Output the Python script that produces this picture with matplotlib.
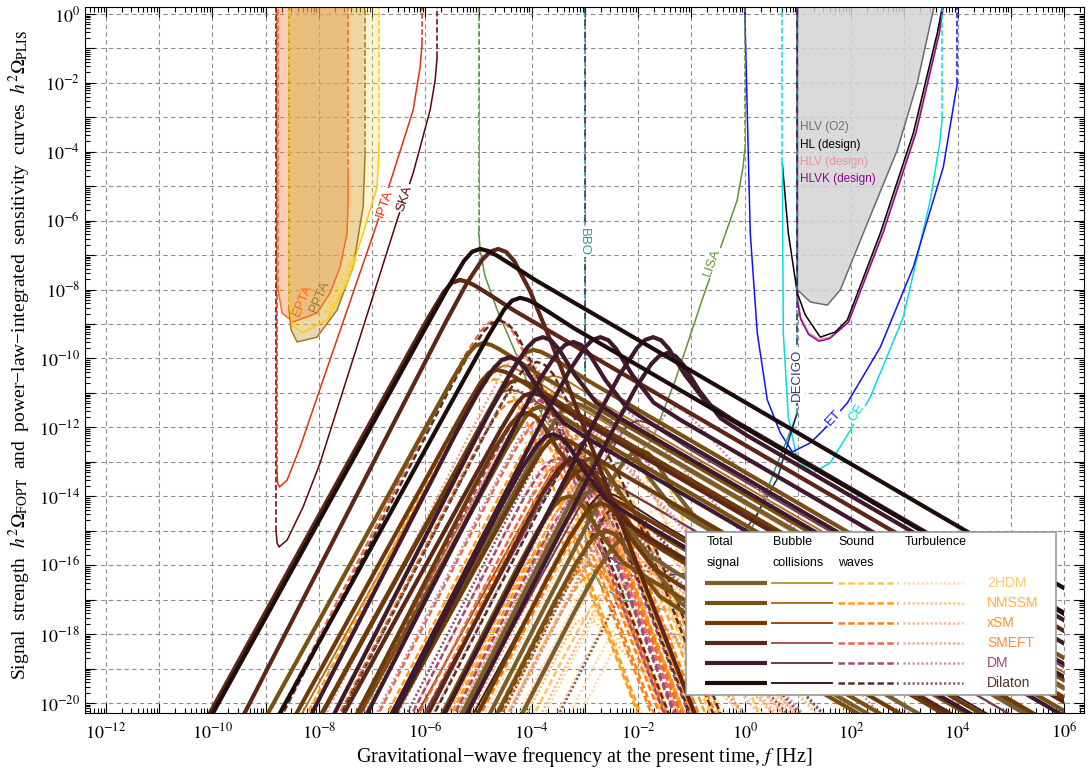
import numpy as np
import matplotlib
matplotlib.use("Agg")
import matplotlib.pyplot as plt
from matplotlib.patches import Rectangle
from matplotlib.ticker import FixedLocator, FuncFormatter, NullFormatter

plt.rcParams['font.family'] = ['Liberation Sans', 'DejaVu Sans']
plt.rcParams['mathtext.fontset'] = 'stix'

# ---------------------------------------------------------------------------
# sensitivity curves (PLIS): log10 f [Hz], log10 h^2 Omega
EPTA_F = [-8.767, -8.692, -8.485, -8.034, -7.789, -7.602, -7.470, -7.451, -7.451]
EPTA_O = [-8.01, -8.68, -8.94, -8.68, -8.10, -7.34, -6.36, -5.40, -4.62]
PPTA_F = [-8.560, -8.523, -8.410, -8.034, -7.658, -7.357, -7.169, -7.132]
PPTA_O = [-8.59, -9.17, -9.52, -9.38, -8.59, -7.34, -5.60, -4.03]
NANO_F = [-8.560, -8.504, -8.316, -7.846, -7.470, -7.169, -6.906, -6.868]
NANO_O = [-8.30, -9.03, -9.26, -8.88, -7.81, -6.36, -5.02, -3.86]
IPTA_F = [-8.786, -8.776, -8.74, -8.598, -8.353, -7.921, -6.906, -6.605, -6.229, -6.098, -6.06]
IPTA_O = [-13.25, -13.62, -13.73, -13.53, -12.57, -10.62, -6.07, -4.62, -2.79, -1.54, -0.84]
SKA_F = [-8.804, -8.786, -8.75, -8.598, -8.297, -7.977, -6.53, -6.229, -5.91, -5.816, -5.778]
SKA_O = [-15.0, -15.35, -15.47, -15.27, -14.31, -13.03, -5.98, -4.62, -2.79, -1.92, -1.25]
LISA_F = [-5.0, -4.97, -4.88, -4.65, -4.27, -4.03, -3.79, -3.4, -2.9, -2.5, -2.1, -1.74,
          -1.30, -0.8, -0.27, -0.14, -0.03, 0.0]
LISA_O = [-6.3, -6.85, -7.6, -8.59, -9.96, -10.91, -11.70, -12.5, -13.0, -13.1, -12.9, -12.37,
          -10.62, -8.3, -5.98, -5.40, -4.44, -3.95]
BBO_F = [-3.0, -2.95, -2.7, -2.3, -1.5, -0.8, -0.3, 0.2, 0.6, 0.99]
BBO_O = [-15.0, -15.9, -16.6, -17.0, -17.3, -17.2, -16.4, -14.7, -13.1, -11.6]
DEC_F = [-3.0, -2.95, -2.7, -2.3, -1.5, -0.8, -0.3, 0.2, 0.61, 0.99]
DEC_O = [-14.0, -14.9, -15.6, -16.0, -16.3, -16.2, -15.5, -14.6, -13.5, -11.55]
ET_F = [0.0, 0.105, 0.237, 0.425, 0.67, 0.895, 1.233, 1.477, 1.929, 2.549, 3.17, 3.733, 3.996]
ET_O = [0.2, -6.36, -9.26, -11.2, -12.16, -12.71, -12.45, -12.08, -11.29, -9.67, -7.34, -4.44, -2.0]
CE_F = [0.707, 0.726, 0.82, 0.989, 1.289, 1.609, 1.985, 2.361, 2.98, 3.489, 3.66, 3.714]
CE_O = [-4.33, -9.26, -11.7, -12.95, -13.32, -13.03, -12.08, -11.12, -8.8, -5.4, -3.8, -3.0]
HL_F = [0.707, 0.82, 0.989, 1.14, 1.421, 1.703, 1.929, 2.549, 3.17, 3.62, 3.714]
HL_O = [-4.33, -6.36, -8.1, -8.74, -9.38, -9.23, -8.88, -6.36, -3.45, -0.55, 0.2]
HLVD_F = [0.989, 0.989, 1.05, 1.2, 1.40, 1.6, 1.95, 2.58, 3.2, 3.64, 3.72]
HLVD_O = [0.2, -8.2, -8.8, -9.25, -9.45, -9.38, -8.92, -6.36, -3.45, -0.55, 0.2]
HLVK_F = [0.989, 0.989, 1.05, 1.2, 1.40, 1.6, 1.95, 2.6, 3.22, 3.66, 3.73]
HLVK_O = [0.2, -8.3, -8.85, -9.3, -9.5, -9.42, -8.95, -6.36, -3.45, -0.55, 0.2]
O2_F = [0.989, 0.989, 1.233, 1.553, 1.797, 2.23, 2.868, 3.244, 3.545, 3.57]
O2_O = [0.2, -8.0, -8.36, -8.45, -8.01, -6.36, -3.95, -2.0, 0.12, 0.2]

# ---------------------------------------------------------------------------
# FOPT signals: peak positions (log10 f, log10 h^2 Omega)
MODELS = ["2HDM", "NMSSM", "xSM", "SMEFT", "DM", "Dilaton"]

TOTAL = {
    "2HDM": [(-2.39, -12.37, "m"), (-1.96, -12.66, "m"), (-3.2, -11.3, "b"),
             (-2.8, -13.8, "m"), (-2.2, -15.2, "m")],
    "NMSSM": [(-4.91, -9.55, "b"), (-3.97, -9.75, "b"), (-3.84, -11.4, "b"),
              (-2.9, -12.9, "m"), (-3.3, -14.0, "m"), (-2.6, -15.0, "m")],
    "xSM": [(-4.65, -10.33, "b"), (-4.27, -10.62, "b"), (-4.09, -11.58, "m"),
            (-3.5, -12.3, "b"), (-3.0, -13.2, "m"), (-2.7, -14.2, "m")],
    "SMEFT": [(-5.35, -7.72, "b"), (-4.63, -6.82, "s"), (-4.0, -11.0, "b"),
              (-3.2, -12.9, "m")],
    "DM": [(-4.41, -9.96, "m"), (-3.79, -9.38, "m"), (-3.22, -9.52, "m"),
           (-2.71, -9.38, "m"), (-1.72, -9.38, "m"), (-1.45, -9.84, "m"),
           (-3.6, -12.2, "m")],
    "Dilaton": [(-4.97, -6.82, "b"), (-4.22, -8.24, "b")],
}
BUBBLE = {
    "2HDM": [(-3.2, -11.35)],
    "NMSSM": [(-4.5, -10.2), (-3.6, -10.5)],
    "xSM": [(-4.4, -10.9), (-3.3, -12.9)],
    "SMEFT": [(-5.35, -7.75)],
    "DM": [(-3.2, -13.0), (-2.0, -11.8)],
    "Dilaton": [(-2.6, -13.9)],
}
SOUND = {
    "2HDM": [(-2.39, -12.4), (-1.96, -12.7), (-3.0, -12.2), (-2.8, -13.85),
             (-2.2, -15.25), (-2.5, -13.5), (-3.3, -14.6), (-2.9, -15.8),
             (-2.4, -16.5), (-3.5, -15.5)],
    "NMSSM": [(-4.7, -10.6), (-3.8, -10.9), (-3.6, -11.8), (-2.9, -12.95),
              (-3.3, -14.05), (-2.6, -15.05), (-3.0, -13.6), (-2.3, -14.3),
              (-3.6, -15.2), (-2.8, -16.2)],
    "xSM": [(-4.3, -11.2), (-4.09, -11.62), (-3.6, -12.0), (-3.0, -13.25),
            (-2.7, -14.25), (-3.3, -13.0), (-2.5, -13.8), (-3.4, -15.0), (-2.9, -16.0)],
    "SMEFT": [(-4.65, -8.88), (-3.4, -13.0), (-3.7, -11.6)],
    "DM": [(-4.41, -10.0), (-3.9, -11.2), (-3.0, -13.8), (-3.5, -12.9)],
    "Dilaton": [(-4.6, -8.9), (-3.9, -10.1), (-2.9, -12.35), (-2.3, -14.2)],
}
TURB = {
    "2HDM": [(-2.0, -14.0), (-1.6, -14.3), (-2.6, -13.9), (-2.4, -15.6),
             (-1.8, -16.9), (-3.0, -16.0), (-2.2, -17.5), (-3.2, -17.0)],
    "NMSSM": [(-4.3, -12.3), (-3.4, -12.6), (-3.2, -13.5), (-2.5, -14.9),
              (-2.9, -15.8), (-2.2, -16.8), (-3.0, -17.5)],
    "xSM": [(-4.0, -12.9), (-3.7, -13.1), (-3.2, -13.6), (-2.6, -15.3), (-2.3, -16.2)],
    "SMEFT": [(-4.25, -9.9), (-4.2, -11.9), (-3.0, -14.3)],
    "DM": [(-3.4, -11.4), (-2.8, -11.6), (-2.3, -11.5), (-1.3, -11.4),
           (-4.0, -12.0), (-3.6, -14.5)],
    "Dilaton": [(-4.3, -10.9), (-3.5, -12.2), (-2.5, -14.6), (-1.9, -16.0)],
}

# spectral shape knots (offset from the peak in decades)
KNOT_DX = [-14, -1.0, -0.6, -0.3, -0.15, 0, 0.15, 0.3, 0.6, 1.0, 1.5, 14]
SHAPE_DY = {
    "b": [-38.6, -2.22, -1.11, -0.34, -0.08, 0, -0.06, -0.18, -0.47, -0.87, -1.32, -12.57],
    "s": [-41.2, -2.16, -1.02, -0.31, -0.08, 0, -0.09, -0.35, -1.23, -2.73, -4.73, -54.7],
    "m": [-41.2, -2.16, -1.02, -0.31, -0.08, 0, -0.09, -0.35, -1.10, -1.90, -2.40, -13.65],
    "t": [-41.6, -2.55, -1.35, -0.48, -0.14, 0, -0.10, -0.32, -0.81, -1.48, -2.31, -23.15],
}

TOT_C = {"2HDM": "#7a5c2e", "NMSSM": "#7a4f12", "xSM": "#6e3a0a",
         "SMEFT": "#5e2616", "DM": "#3e1a2c", "Dilaton": "#1c0c0a"}
BC_C = {"2HDM": "#c0954a", "NMSSM": "#b0701c", "xSM": "#a04a10",
        "SMEFT": "#a85a4a", "DM": "#6e3a58", "Dilaton": "#3c1c14"}
SW_C = {"2HDM": "#ffc45c", "NMSSM": "#ff9c14", "xSM": "#ff7e14",
        "SMEFT": "#e8684a", "DM": "#a44a78", "Dilaton": "#5a2c24"}
TB_C = {"2HDM": "#ffdc9a", "NMSSM": "#ffc27a", "xSM": "#ffb48a",
        "SMEFT": "#f0a898", "DM": "#c894b0", "Dilaton": "#8a5c58"}
LAB_C = {"2HDM": "#ffc870", "NMSSM": "#ffb040", "xSM": "#ff9030",
         "SMEFT": "#ff8a3a", "DM": "#a04a70", "Dilaton": "#5a3028"}

W, H = 1089, 771
fig = plt.figure(figsize=(W / 100, H / 100), dpi=100)
ax = fig.add_axes([85 / W, 1 - 712.7 / H, 999 / W, 706 / H])
ax.set_xscale('log')
ax.set_yscale('log')
X0, X1 = 10 ** -12.395, 10 ** 6.376
Y0, Y1 = 10 ** -20.28, 10 ** 0.21
ax.set_xlim(X0, X1)
ax.set_ylim(Y0, Y1)
TOP = 10 ** 0.3

P = lambda v: 10 ** np.asarray(v, dtype=float)


def sens(fl, ol, color, lw=1.1, left=False, right=False, ls_v='--', z=2):
    ax.plot(P(fl), P(ol), color=color, lw=lw, zorder=z, solid_capstyle='butt')
    if left:
        ax.plot(P([fl[0], fl[0]]), [P(ol[0]), TOP], color=color, lw=lw, ls=ls_v, zorder=z)
    if right:
        ax.plot(P([fl[-1], fl[-1]]), [P(ol[-1]), TOP], color=color, lw=lw, ls=ls_v, zorder=z)


def fill_top(fl, ol, color, alpha):
    xs = np.concatenate([[fl[0]], fl, [fl[-1]]])
    ys = np.concatenate([[0.3], ol, [0.3]])
    ax.fill(P(xs), P(ys), color=color, alpha=alpha, lw=0, zorder=1)


# PTA filled regions
fill_top(EPTA_F, EPTA_O, '#f0884a', 0.40)
fill_top(PPTA_F, PPTA_O, '#b07820', 0.30)
fill_top(NANO_F, NANO_O, '#ffd966', 0.30)
sens(SKA_F, SKA_O, '#5a0808', left=True, right=True)
sens(IPTA_F, IPTA_O, '#e03010', left=True, right=True)
sens(EPTA_F, EPTA_O, '#ff6a1a', left=True, right=True)
sens(PPTA_F, PPTA_O, '#a87818', left=True, right=True)
sens(NANO_F, NANO_O, '#ffcc00', left=True, right=True)

# ground based
fill_top(O2_F, O2_O, '#d4d4d4', 0.85)
sens(O2_F, O2_O, '#6a6a6a')
sens(HLVD_F, HLVD_O, '#e890a8')
sens(HLVK_F, HLVK_O, '#8a0a8a')
sens(HL_F, HL_O, 'black')
sens(CE_F, CE_O, '#00e0e0', left=True, right=True)
sens(ET_F, ET_O, '#1010ff', right=True)

# space based
sens(LISA_F, LISA_O, '#5e9438', left=True, right=True)
ax.plot(P(BBO_F), P(BBO_O), color='#20a08c', lw=1.1, zorder=2)
ax.plot(P(DEC_F), P(DEC_O), color='#1c2c5c', lw=1.1, zorder=2)
for fl, ol, c, off in [(BBO_F, BBO_O, '#20a08c', 0), (DEC_F, DEC_O, '#1c2c5c', 4)]:
    for i in (0, -1):
        ax.plot(P([fl[i], fl[i]]), [P(ol[i]), TOP], color=c, lw=1.1,
                ls=(off, (4, 4)), zorder=2)

# FOPT spectra, computed up to f = 1e6 Hz only
clip = Rectangle((X0, Y0), 1e6 - X0, Y1 - Y0, transform=ax.transData)
dx = np.asarray(KNOT_DX, dtype=float)


def spectrum(fp, op, shape, **kw):
    ln, = ax.plot(10 ** (fp + dx), 10 ** (op + np.asarray(SHAPE_DY[shape])), **kw)
    ln.set_clip_path(clip)


for m in MODELS:
    for fp, op in BUBBLE[m]:
        spectrum(fp, op, "b", color=BC_C[m], lw=1.4, zorder=3)
    for fp, op in SOUND[m]:
        spectrum(fp, op, "s", color=SW_C[m], lw=1.8, dashes=(2.6, 1.3), zorder=3)
    for fp, op in TURB[m]:
        spectrum(fp, op, "t", color=TB_C[m], lw=1.8, dashes=(0.9, 0.9), zorder=3)
    for fp, op, sh in TOTAL[m]:
        spectrum(fp, op, sh, color=TOT_C[m], lw=3.0, zorder=4, solid_capstyle='butt')

# labels on curves
def lab(lf, lo, s, c, rot, box=True, size=9.5):
    kw = dict(bbox=dict(fc='white', ec='none', pad=1.0)) if box else {}
    ax.text(10 ** lf, 10 ** lo, s, color=c, rotation=rot, ha='center', va='center',
            rotation_mode='anchor', fontsize=size, zorder=6, **kw)


lab(-8.30, -8.30, 'EPTA', '#ff6a1a', 67, box=False)
lab(-7.98, -8.21, 'PPTA', '#9e7a2a', 67, box=False)
lab(-7.56, -7.84, 'NANOGrav', '#ffd020', 65, box=False)
lab(-6.77, -5.49, 'IPTA', '#e03010', 71)
lab(-6.38, -5.35, 'SKA', '#5a0808', 72)
lab(-3.03, -6.62, 'BBO', '#2aa08a', -90)
lab(-0.61, -7.2, 'LISA', '#5e9438', 70)
lab(0.99, -10.48, 'DECIGO', '#2a3a6a', 90)
lab(1.665, -11.73, 'ET', '#1010ff', 47)
lab(2.098, -11.58, 'CE', '#00d8d8', 58)
for lo, s, c in [(-3.28, 'HLV (O2)', '#6e6e6e'), (-3.80, 'HL (design)', 'black'),
                 (-4.30, 'HLV (design)', '#e890a8'), (-4.79, 'HLVK (design)', '#8a0a8a')]:
    ax.text(10 ** 1.045, 10 ** lo, s, color=c, fontsize=8.5, ha='left', va='center', zorder=6)

# axes styling: a tick at every decade, labels on the even ones
fmt = FuncFormatter(lambda v, p: f'$10^{{{int(round(np.log10(v)))}}}$'
                    if int(round(np.log10(v))) % 2 == 0 else '')
for axis, lo_e, hi_e, lim in ((ax.xaxis, -12, 6, (X0, X1)), (ax.yaxis, -20, 0, (Y0, Y1))):
    axis.set_major_locator(FixedLocator([10.0 ** e for e in range(lo_e, hi_e + 1)]))
    minors = [k * 10.0 ** e for e in range(lo_e - 1, hi_e + 1) for k in range(2, 10)]
    axis.set_minor_locator(FixedLocator([v for v in minors if lim[0] < v < lim[1]]))
    axis.set_minor_formatter(NullFormatter())
    axis.set_major_formatter(fmt)
ax.tick_params(which='both', direction='in', top=True, right=True, width=0.8, labelsize=13)
ax.tick_params(which='major', length=7)
ax.tick_params(which='minor', length=3.5)
ax.tick_params(axis='x', pad=7)
ax.grid(True, which='major', color='#8c8c8c', lw=0.8, ls=(0, (4, 3)))
ax.set_axisbelow(True)

fig.text(20 / W, 0.54,
         'Signal  strength  $h^2\\Omega_{\\rm FOPT}$  and  power\u2212law\u2212integrated  '
         'sensitivity  curves  $h^2\\Omega_{\\rm PLIS}$',
         rotation=90, ha='center', va='center', fontsize=14, family='Liberation Serif')
fig.text(584.5 / W, 1 - 757 / H,
         'Gravitational\u2212wave frequency at the present time, $f$ [Hz]',
         ha='center', va='center', fontsize=14.5, family='Liberation Serif')

# legend panel
lax = fig.add_axes([686 / W, 1 - 695 / H, 370 / W, 163 / H])
lax.set_xlim(686, 1056)
lax.set_ylim(695, 532)
lax.set_xticks([])
lax.set_yticks([])
for s in lax.spines.values():
    s.set_color('#9a9a9a')
    s.set_linewidth(1.2)
for t1, t2, x in [("Total", "signal", 707), ("Bubble", "collisions", 773),
                  ("Sound", "waves", 838), ("Turbulence", "", 905)]:
    lax.text(x, 542, t1, fontsize=9, va='center', ha='left')
    lax.text(x, 563, t2, fontsize=9, va='center', ha='left')
for i, m in enumerate(MODELS):
    y = 583 + 20 * i
    lax.plot([705, 767], [y, y], color=TOT_C[m], lw=3.0, solid_capstyle='butt')
    lax.plot([772, 832], [y, y], color=BC_C[m], lw=1.4)
    lax.plot([838, 898], [y, y], color=SW_C[m], lw=1.8, dashes=(2.6, 1.3))
    lax.plot([903, 963], [y, y], color=TB_C[m], lw=1.8, dashes=(0.9, 0.9))
    lax.text(987, y, m, color=LAB_C[m], fontsize=10, va='center', ha='left')

fig.savefig('out.png', dpi=100, facecolor='white')
